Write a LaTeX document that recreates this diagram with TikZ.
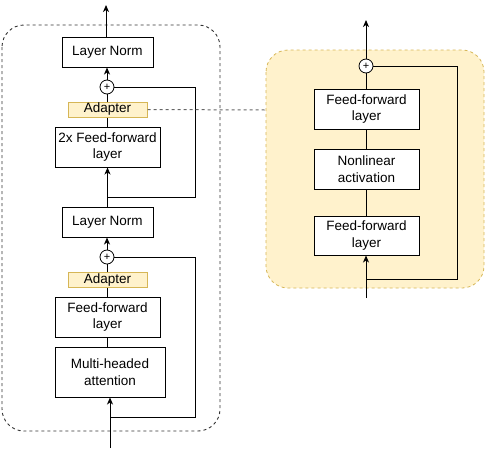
\documentclass[tikz,border=0pt]{standalone}
\usepackage{fontspec}
\setmainfont{Liberation Sans}
\usetikzlibrary{arrows.meta}
\definecolor{adfill}{HTML}{FFF2CC}
\definecolor{adline}{HTML}{D6B656}
\begin{document}
\begin{tikzpicture}[x=1pt,y=-1pt,
  lbl/.style={font=\fontsize{13.5}{16.5}\selectfont, align=center},
  blk/.style={lbl, draw=black, fill=white, line width=1pt, inner sep=0pt, minimum width=105pt, minimum height=40pt},
  adbox/.style={lbl, draw=adline, fill=adfill, line width=1pt, inner sep=0pt, minimum width=79pt, minimum height=15pt},
  plusnode/.style={circle, draw=black, fill=white, line width=0.8pt, inner sep=0pt, minimum size=14pt, font=\fontsize{11}{11}\selectfont},
  conn/.style={line width=1pt, draw=black},
  arr/.style={conn, -{Stealth[length=7pt,width=6pt,inset=2pt]}},
  container/.style={draw=black!80, line width=0.9pt, dash pattern=on 3pt off 3pt, rounded corners=22pt}
]
\useasboundingbox (0,0) rectangle (486,456);
% containers
\draw[container] (2,25) rectangle (220,431);
\draw[draw=adline, fill=adfill, line width=0.8pt, dash pattern=on 3pt off 3pt, rounded corners=22pt] (266,50) rectangle (484,288);

% left column
\node[blk, minimum width=91pt, minimum height=30pt] (ln1) at (107.5,52) {Layer Norm};
\node[plusnode] (plus1) at (107,87) {+};
\node[adbox] (ad1) at (107.5,109.5) {Adapter};
\node[blk] (ff2x) at (107.5,147) {2x Feed-forward\\layer};
\node[blk, minimum width=91pt, minimum height=30pt] (ln2) at (107.5,222) {Layer Norm};
\node[plusnode] (plus2) at (107,257) {+};
\node[adbox] (ad2) at (107.5,279.5) {Adapter};
\node[blk] (ff1) at (107.5,317) {Feed-forward\\layer};
\node[blk, minimum width=110pt, minimum height=50pt] (mha) at (110,372) {Multi-headed\\attention};

\coordinate (out1) at (106,5);
\coordinate (in1) at (110,448);
\coordinate (s1a) at (195,87);
\coordinate (s1b) at (195,197);
\coordinate (s1c) at (107.5,197);
\coordinate (s2a) at (195,257);
\coordinate (s2b) at (195,417);
\coordinate (s2c) at (110,417);

\draw[arr] (ln1.north -| out1) -- (out1);
\draw[arr] (plus1.north) -- (plus1.north |- ln1.south);
\draw[conn] (ad1.north -| plus1) -- (plus1.south);
\draw[conn] (ff2x.north) -- (ad1.south);
\draw[arr] (ln2.north) -- (ff2x.south);
\draw[conn] (plus1.east) -- (s1a) -- (s1b) -- (s1c);
\draw[arr] (plus2.north) -- (plus2.north |- ln2.south);
\draw[conn] (ad2.north -| plus2) -- (plus2.south);
\draw[conn] (ff1.north) -- (ad2.south);
\draw[conn] (mha.north -| ff1) -- (ff1.south);
\draw[arr] (in1) -- (mha.south);
\draw[conn] (plus2.east) -- (s2a) -- (s2b) -- (s2c);

% right column
\node[plusnode] (plus3) at (366,66) {+};
\node[blk] (ffa) at (366.5,109) {Feed-forward\\layer};
\node[blk] (nl) at (366.5,169) {Nonlinear\\activation};
\node[blk, minimum height=39pt] (ffb) at (366.5,235.5) {Feed-forward\\layer};
\coordinate (out3) at (366,20);
\coordinate (in3) at (366,298);
\coordinate (s3a) at (457,66);
\coordinate (s3b) at (457,279);
\coordinate (s3c) at (366,279);
\coordinate (ct) at (266,110);

\draw[arr] (plus3.north) -- (out3);
\draw[conn] (ffa.north -| plus3) -- (plus3.south);
\draw[conn] (nl.north) -- (ffa.south);
\draw[conn] (ffb.north) -- (nl.south);
\draw[arr] (in3) -- (in3 |- ffb.south);
\draw[conn] (plus3.east) -- (s3a) -- (s3b) -- (s3c);

% dashed link
\draw[draw=black!60, line width=1pt, dash pattern=on 3pt off 3pt] (ad1.east) -- (ct);
\end{tikzpicture}
\end{document}
